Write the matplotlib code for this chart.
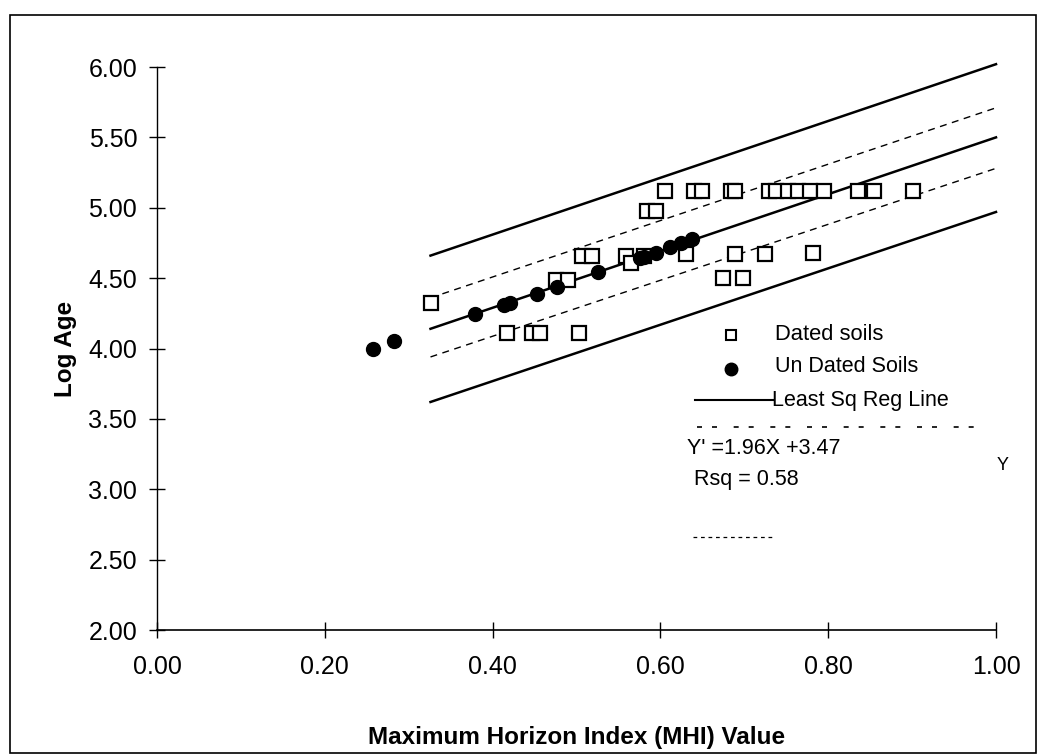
import matplotlib
matplotlib.use("Agg")
import matplotlib.pyplot as plt
from matplotlib.patches import Rectangle
from matplotlib.lines import Line2D

plt.rcParams['font.family'] = ['Liberation Sans', 'DejaVu Sans']

# Dated soils (open squares)
dated_x = [0.327, 0.417, 0.447, 0.457, 0.503, 0.476, 0.490, 0.506, 0.519, 0.559,
           0.565, 0.581, 0.630, 0.689, 0.725, 0.782, 0.675, 0.699,
           0.584, 0.595, 0.605, 0.640, 0.649, 0.684, 0.689,
           0.730, 0.738, 0.752, 0.764, 0.778, 0.795, 0.835, 0.855, 0.901]
dated_y = [4.32, 4.11, 4.11, 4.11, 4.11, 4.49, 4.49, 4.66, 4.66, 4.66,
           4.61, 4.66, 4.67, 4.67, 4.67, 4.68, 4.50, 4.50,
           4.98, 4.98, 5.12, 5.12, 5.12, 5.12, 5.12,
           5.12, 5.12, 5.12, 5.12, 5.12, 5.12, 5.12, 5.12, 5.12]

# Un dated soils (filled circles)
undated_x = [0.258, 0.283, 0.379, 0.413, 0.421, 0.453, 0.477, 0.526,
             0.576, 0.581, 0.595, 0.612, 0.625, 0.638]
undated_y = [4.00, 4.05, 4.245, 4.31, 4.32, 4.39, 4.44, 4.54,
             4.645, 4.65, 4.68, 4.72, 4.75, 4.775]

# Line endpoints
line_x = [0.326, 1.0]
reg_y = [4.14, 5.50]
conf_upper_y = [4.36, 5.71]
conf_lower_y = [3.94, 5.28]
pred_upper_y = [4.66, 6.02]
pred_lower_y = [3.62, 4.97]

x_ticks = [0.0, 0.2, 0.4, 0.6, 0.8, 1.0]
y_ticks = [2.0, 2.5, 3.0, 3.5, 4.0, 4.5, 5.0, 5.5, 6.0]

W, H = 1039, 755
fig = plt.figure(figsize=(W / 100, H / 100), dpi=100)
ax = fig.add_axes([157 / W, 1 - 630 / H, (996 - 157) / W, (630 - 67) / H])

# lines
ax.plot(line_x, pred_upper_y, color='black', lw=1.8, clip_on=False, zorder=2)
ax.plot(line_x, pred_lower_y, color='black', lw=1.8, clip_on=False, zorder=2)
ax.plot(line_x, reg_y, color='black', lw=1.8, clip_on=False, zorder=2)
ax.plot(line_x, conf_upper_y, color='black', lw=1.0, ls=(0, (5, 4)), clip_on=False, zorder=2)
ax.plot(line_x, conf_lower_y, color='black', lw=1.0, ls=(0, (5, 4)), clip_on=False, zorder=2)

ax.plot(dated_x, dated_y, ls='none', marker='s', ms=9.5, mfc='white', mec='black',
        mew=1.6, clip_on=False, zorder=3)
ax.plot(undated_x, undated_y, ls='none', marker='o', ms=10, mfc='black', mec='black',
        clip_on=False, zorder=4)

ax.set_xlim(0, 1)
ax.set_ylim(2, 6)
ax.set_xticks(x_ticks)
ax.set_xticklabels([f"{v:.2f}" for v in x_ticks])
ax.set_yticks(y_ticks)
ax.set_yticklabels([f"{v:.2f}" for v in y_ticks])
for s in ['top', 'right']:
    ax.spines[s].set_visible(False)
ax.spines['left'].set_linewidth(1.0)
ax.spines['bottom'].set_linewidth(1.2)
ax.tick_params(axis='both', direction='inout', length=11.5, width=1.0, labelsize=18)
ax.tick_params(axis='x', pad=12)
ax.tick_params(axis='y', pad=8.5)
ax.set_xlabel('Maximum Horizon Index (MHI) Value', fontsize=17.5, fontweight='bold', labelpad=34)
ax.set_ylabel('Log Age', fontsize=17.5, fontweight='bold', labelpad=8)

# legend / annotations in figure pixel coordinates
def fx(px):
    return px / W

def fy(py):
    return 1 - py / H

fig.add_artist(Line2D([fx(731)], [fy(335)], marker='s', ms=7.5, mfc='white', mec='black', mew=1.5))
fig.text(fx(775), fy(334), 'Dated soils', fontsize=15.8, va='center', ha='left')
fig.add_artist(Line2D([fx(731)], [fy(369)], marker='o', ms=9, mfc='black', mec='black'))
fig.text(fx(775), fy(367), 'Un Dated Soils', fontsize=15.5, va='center', ha='left')
fig.add_artist(Line2D([fx(695), fx(773)], [fy(400), fy(400)], color='black', lw=1.5))
fig.text(fx(772), fy(400), 'Least Sq Reg Line', fontsize=15.5, va='center', ha='left')
fig.add_artist(Line2D([fx(697), fx(985)], [fy(427), fy(427)], color='black', lw=1.2,
                      ls=(0, (3, 6, 3, 10))))
fig.text(fx(687), fy(449), "Y' =1.96X +3.47", fontsize=15.5, va='center', ha='left')
fig.text(fx(694), fy(479), 'Rsq = 0.58', fontsize=15.5, va='center', ha='left')
fig.text(fx(1003), fy(466), 'Y', fontsize=13, va='center', ha='center')
fig.add_artist(Line2D([fx(693), fx(772)], [fy(537), fy(537)], color='black', lw=0.9,
                      ls=(0, (3, 3))))

# outer frame
fig.add_artist(Rectangle((fx(10), fy(753)), fx(1036) - fx(10), fy(15) - fy(753),
                         fill=False, ec='black', lw=1.2, transform=fig.transFigure))

fig.savefig('out.png', dpi=100)
